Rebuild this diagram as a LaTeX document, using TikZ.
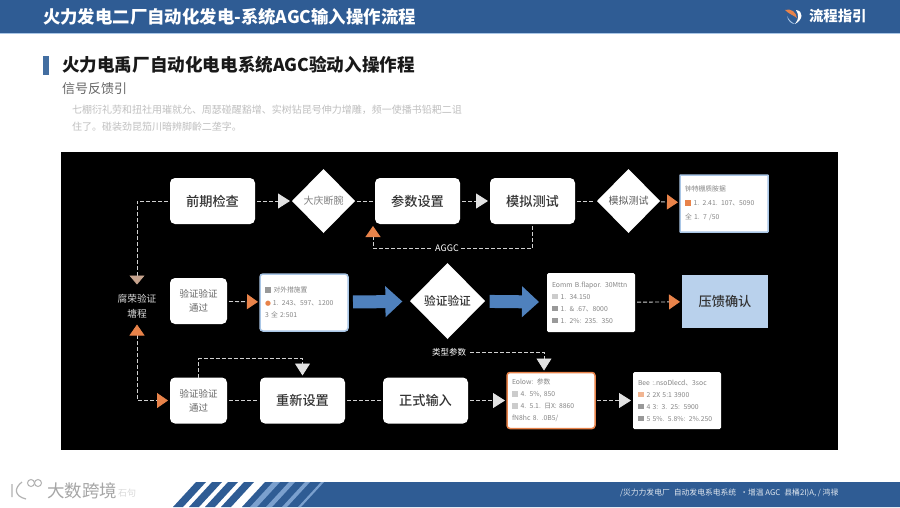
\documentclass[tikz,border=0pt]{standalone}
\usepackage{fontspec}
\setmainfont{Noto Sans CJK SC}
\newfontfamily\midfont{Noto Sans CJK SC Medium}
\newfontfamily\symfont{DejaVu Sans}
\usetikzlibrary{arrows.meta,positioning,shapes.geometric,calc}
\definecolor{bandblue}{HTML}{2F5C94}
\definecolor{tipgray}{HTML}{E2E2E2}
\definecolor{tiporange}{HTML}{E8834A}
\definecolor{tiptan}{HTML}{C7A48E}
\definecolor{flowblue}{HTML}{4F81BD}
\definecolor{confirmblue}{HTML}{B9D1EC}
\definecolor{rimblue}{HTML}{A9C6E6}
\definecolor{inkgray}{HTML}{333333}
\definecolor{cardgray}{HTML}{858585}
\newcommand{\sqmark}[1]{\textcolor{#1}{\rule{5.5pt}{5.5pt}}\hspace{3pt}}
\begin{document}
\begin{tikzpicture}[x=1pt,y=-1pt,every node/.style={inner sep=0pt,outer sep=0pt},
 box/.style={fill=white,rounded corners=5pt,minimum width=85pt,minimum height=46pt,font=\fontsize{13.2}{15}\midfont,text=inkgray},
 smallbox/.style={box,minimum width=57pt,font=\fontsize{9.5}{14}\selectfont,align=center,text=black!60},
 dia/.style={diamond,fill=white,aspect=1,minimum width=63pt,minimum height=64pt,font=\fontsize{10}{12}\selectfont},
 card/.style={fill=white,rounded corners=1.5pt,minimum width=88pt,align=left,font=\fontsize{6.8}{12}\selectfont,text=cardgray,text width=78pt,inner xsep=5pt},
 rimcard/.style={card,draw=rimblue,line width=1.5pt,font=\fontsize{6.8}{14}\selectfont},
 linea/.style={draw=black!18,line width=0.9pt,dash pattern=on 4pt off 2pt,shorten <=2pt},
 arrgray/.style={linea,-{Triangle[length=12pt,width=15pt,color=tipgray,fill=tipgray]},shorten >=2pt},
 arrorange/.style={linea,-{Triangle[length=11pt,width=15pt,color=tiporange,fill=tiporange]},shorten >=2pt},
 arrblue/.style={draw=flowblue,line width=13pt,-{Triangle[length=17pt,width=30pt,color=flowblue,fill=flowblue]},shorten <=5pt,shorten >=8pt}]
\useasboundingbox (0,0) rectangle (900,507);
\fill[white] (0,0) rectangle (900,507);
% header
\fill[bandblue] (0,0) rectangle (900,33);
\fill[rimblue] (0,33) rectangle (900,34);
\node[anchor=west,text=white,font=\fontsize{17.4}{19}\selectfont\bfseries] (title) at (43,17) {火力发电二厂自动化发电-系统AGC输入操作流程};
\node[anchor=west,text=white,font=\fontsize{14.4}{16}\selectfont\bfseries] (guide) at (809,16) {流程指引};
\fill[tiporange] (785,10) .. controls (791,8) and (796,12) .. (797,18) .. controls (793,15) and (789,14) .. (785,10);
\fill[white] (796,10) .. controls (804,11) and (803,20) .. (795,24) .. controls (799,19) and (799,15) .. (796,10);
\fill[rimblue] (787,16) .. controls (788,21) and (791,24) .. (795,24) .. controls (791,22) and (789,20) .. (787,16);
% heading
\fill[flowblue!85!black] (43,56) rectangle (49,75);
\node[anchor=west,text=black!90,font=\fontsize{17.6}{19}\selectfont\bfseries] (head) at (62,65) {火力电禹厂自动化电电系统AGC验动入操作程};
\node[anchor=west,text=black!60,font=\fontsize{13}{15}\selectfont] (sub) at (62,89) {信号反馈引};
\node[anchor=west,text=black!25,font=\fontsize{10}{11}\selectfont] (noteA) at (72,110) {七棚衍礼劳和扭社用璀就允、周瑟碰醒豁增、实树钻昆号伸力增雕，频一使播书铅耙二诅};
\node[anchor=west,text=black!25,font=\fontsize{10}{11}\selectfont] (noteB) at (72,127) {住了。碰装劲昆笳川暗辨脚齡二垄字。};
% panel
\fill[black] (61,152) rectangle (838,450);
% first row
\node[box] (pre) at (212.5,201) {前期检查};
\node[dia,right=37pt of pre,text=black!50] (daqing) {大庆断腕};
\node[box,right=20pt of daqing] (param) {参数设置};
\node[box,right=30pt of param] (test) {模拟测试};
\node[dia,right=22pt of test,text=black!65] (testdia) {模拟测试};
\node[rimcard,right=20pt of testdia,yshift=-2.5pt,minimum height=57pt,rounded corners=0.5pt] (cardtop) {钟特棚质胺据\\\sqmark{tiporange}1. 2.41. 107、5090\\全 1. 7 /50};
% second row
\node[smallbox] (passa) at (198.5,301) {验证验证\\通过};
\node[rimcard,right=33pt of passa,yshift=-1.5pt,minimum height=57pt,rounded corners=3pt,font=\fontsize{6.8}{12.5}\selectfont] (cardleft) {\sqmark{black!40}对外措施置\\{\symfont\textcolor{tiporange}{●}}\hspace{2pt}1. 243、597、1200\\3 全 2:501};
\node[dia,right=62pt of cardleft,yshift=1.5pt,minimum width=75pt,minimum height=76pt,text=inkgray,font=\fontsize{11.7}{14}\midfont] (check) {验证验证};
\node[card,right=62pt of check,yshift=-1.5pt,minimum height=59pt] (cardright) {Eomm B.flapor. 30Mttn\\\sqmark{black!20}1. 34.150\\\sqmark{black!40}1. \& .67、8000\\\sqmark{black!40}1. 2\%: 235. 350};
\node[box,right=47pt of cardright,yshift=1pt,fill=confirmblue,rounded corners=0pt,minimum width=86pt,minimum height=53pt] (confirm) {压馈确认};
\node[text=black!15,align=center,font=\fontsize{9.7}{15}\selectfont] (retry) at (137,306.5) {腐荣验证\\塘程};
% third row
\node[smallbox] (passb) at (198.5,400.5) {验证验证\\通过};
\node[box,right=33pt of passb] (reset) {重新设置};
\node[box,right=38pt of reset] (input) {正式输入};
\node[card,right=39pt of input,draw=tiporange,line width=1.5pt,rounded corners=3pt,minimum height=56pt] (cardin) {Eolow: 参数\\\sqmark{black!20}4. 5\%, 850\\\sqmark{black!20}4. 5.1. 日X: 8860\\fN8hc 8. .0B5/};
\node[card,right=38pt of cardin,minimum height=57pt] (cardout) {Bee :.nsoDlecd、3soc\\\sqmark{tiporange!60}2 2X 5:1 3900\\\sqmark{black!40}4 3: 3. 25: 5900\\\sqmark{black!40}5 5\%. 5.8\%: 2\%.250};
% labels
\node[text=white,font=\fontsize{9}{11}\selectfont] (aggc) at (447,248) {AGGC};
\node[text=white,font=\fontsize{8.5}{10}\selectfont] (kind) at (449,352) {类型参数};
% connectors
\draw[arrgray] (pre)--(daqing);
\draw[linea,shorten >=2pt] (daqing)--(param);
\draw[arrgray] (param)--(test);
\draw[linea,shorten >=2pt] (test)--(testdia);
\draw[arrorange] (testdia)--(cardtop);
\draw[linea] (test.south) |- (aggc.east);
\draw[arrorange,shorten <=4pt] (aggc.west) -| ($(param.south west)+(-2,0)$);
\draw[arrorange] (passa)--(cardleft);
\draw[arrblue] (cardleft)--(check);
\draw[arrblue] (check)--(cardright);
\draw[arrorange] (cardright)--(confirm);
\draw[linea,-{Triangle[length=9pt,width=15pt,color=tiptan,fill=tiptan]},shorten >=10pt] (pre.west) -| (retry.north);
\draw[arrorange,{Triangle[length=11pt,width=15pt,color=tiporange,fill=tiporange]}-{Triangle[length=11pt,width=15pt,color=tiporange,fill=tiporange]},shorten <=6pt] (retry.south) |- (passb.west);
\draw[linea,shorten >=2pt] (passb)--(reset);
\draw[linea,shorten >=2pt] (reset)--(input);
\draw[arrgray] (input)--(cardin);
\draw[arrgray] (cardin)--(cardout);
\draw[arrgray,shorten <=0pt] (passb.north) |- ($(passb.north)!0.5!(reset.north)+(0,-19)$) -| (reset.north);
\draw[arrgray,line width=0.7pt,shorten <=4pt] (kind.east) -| ($(cardin.north)+(-7,0)$);
% footer
\fill[bandblue] (242,507) -- (265,482) -- (900,482) -- (900,507) -- cycle;
\foreach \xs in {173,189,205,221} \fill[bandblue] (\xs,507) -- (\xs+23,482) -- (\xs+33,482) -- (\xs+10,507) -- cycle;
\foreach \xs/\ws in {250/7,266/6,282/5,298/3} \fill[flowblue!75!white] (\xs,507) -- (\xs+23,482) -- (\xs+23+\ws,482) -- (\xs+\ws,507) -- cycle;
\node[anchor=west,text=white!85!bandblue,font=\fontsize{7.8}{9}\selectfont] (foot) at (620,493) {/災力力发电厂\hspace{4pt}自动发电系电系统\hspace{4pt}·增温 AGC\hspace{4pt}县桶2I)A, / 鸿禄};
\node[anchor=west,text=black!35,font=\fontsize{17.5}{19}\selectfont] (mark) at (47,490.5) {大数跨境};
\node[anchor=west,text=black!15,font=\fontsize{9}{10}\selectfont] (markend) at (118,493) {石句};
\draw[black!30,line width=1.2pt] (12,484) -- (12,497) (22,482) .. controls (14,488) and (14,496) .. (26,499);
\draw[black!30,line width=1pt] (31,483) circle (3.5);
\draw[black!30,line width=1pt] (38,483) circle (3.5);
\end{tikzpicture}
\end{document}
